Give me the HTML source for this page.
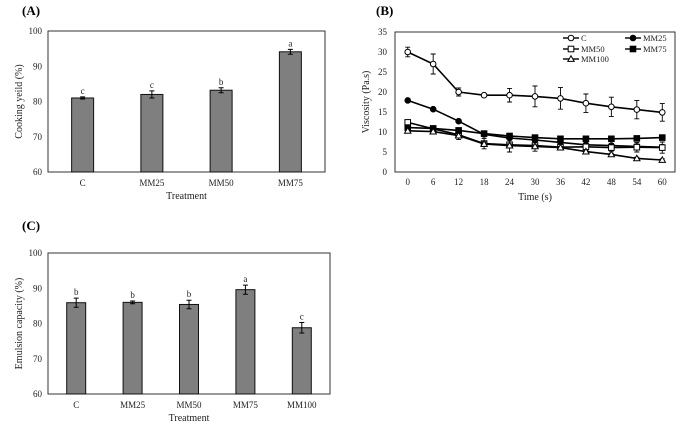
<!DOCTYPE html>
<html><head><meta charset="utf-8">
<style>
html,body{margin:0;padding:0;background:#fff;}
svg{display:block;font-family:"Liberation Serif",serif;}
</style></head>
<body>
<svg id="svg" width="689" height="433" viewBox="0 0 689 433" xmlns="http://www.w3.org/2000/svg">
<text x="22" y="15" font-size="13" font-weight="bold">(A)</text>
<text x="376" y="15" font-size="13" font-weight="bold">(B)</text>
<text x="22" y="230" font-size="13" font-weight="bold">(C)</text>
<g id="chartA"></g>
<g id="chartB"></g>
<g id="chartC"></g>
</svg>
<script>
const catsA = ["C","MM25","MM50","MM75"];
const valsA = [81.0,82.0,83.2,94.1];
const errA = [0.3,1.0,0.7,0.7];
const sigA = ["c","c","b","a"];
const ticksBar = [60,70,80,90,100];

const catsC = ["C","MM25","MM50","MM75","MM100"];
const valsC = [85.9,86.0,85.4,89.6,78.8];
const errC = [1.3,0.4,1.2,1.3,1.5];
const sigC = ["b","b","b","a","c"];

const timesB = [0,6,12,18,24,30,36,42,48,54,60];
const ticksB = [0,5,10,15,20,25,30,35];
const seriesNames = ["C","MM25","MM50","MM75","MM100"];
const valsBC = [30,27,20,19.2,19.2,18.9,18.4,17.2,16.3,15.6,14.9];
const errBC = [1.2,2.5,1,0.3,1.7,2.6,2.7,2.3,2.4,2.3,2.2];
const valsBMM25 = [17.9,15.7,12.7,9.4,8.5,8.0,7.4,6.8,6.6,6.4,6.2];
const errBMM25 = [0.3,0.3,0.3,0.5,0.5,0.5,0.4,0.5,0.5,0.6,0.6];
const valsBMM50 = [12.4,10.8,9.3,7.1,6.8,6.6,6.2,6.3,6.1,6.2,6.1];
const errBMM50 = [0.5,0.5,1.2,1.3,1.8,1.4,0.5,0.8,0.9,1.2,1.4];
const valsBMM75 = [11.1,10.9,10.4,9.6,9.0,8.6,8.3,8.3,8.3,8.4,8.6];
const errBMM75 = [0.4,0.3,0.4,0.5,0.4,0.4,0.3,0.3,0.3,0.3,0.3];
const valsBMM100 = [10.3,10.1,9.1,7.0,6.6,6.4,6.1,5.1,4.4,3.4,3.0];
const errBMM100 = [0.3,0.3,0.5,0.5,0.4,0.4,0.3,0.3,0.3,0.3,0.3];

const NS="http://www.w3.org/2000/svg";
function mk(parent,tag,attrs,text){const e=document.createElementNS(NS,tag);for(const k in attrs)e.setAttribute(k,attrs[k]);if(text!==undefined)e.textContent=text;parent.appendChild(e);return e;}

function barChart(g,cats,vals,errs,sigs,box,bw,ytitle,prefix){
  const {x0,x1,y0,y1}=box;
  const ymin=60,ymax=100;
  const ys=v=>y1-(v-ymin)/(ymax-ymin)*(y1-y0);
  const step=(x1-x0)/cats.length;
  const xs=i=>x0+step*(i+0.5);
  const frame=mk(g,"rect",{x:x0,y:y0,width:x1-x0,height:y1-y0,fill:"none",stroke:"#333","stroke-width":1});
  
  
  ticksBar.forEach(t=>{
    const tx=mk(g,"text",{x:x0-6,y:ys(t)+3,"font-size":9,"text-anchor":"end",fill:"#222"},String(t));
    
    
  });
  cats.forEach((c,i)=>{
    const cx=xs(i);
    const b=mk(g,"rect",{x:cx-bw/2,y:ys(vals[i]),width:bw,height:y1-ys(vals[i]),fill:"#7f7f7f",stroke:"#111","stroke-width":1});
    
    
    const eh=ys(vals[i]-errs[i]),el=ys(vals[i]+errs[i]);
    const eb=mk(g,"path",{d:`M${cx},${eh}V${el}M${cx-2.5},${eh}H${cx+2.5}M${cx-2.5},${el}H${cx+2.5}`,stroke:"#000","stroke-width":1,fill:"none"});
    
    
    const s=mk(g,"text",{x:cx,y:el-3,"font-size":9,"text-anchor":"middle",fill:"#222"},sigs[i]);
    
    
    const lx=mk(g,"text",{x:cx,y:y1+14,"font-size":9,"text-anchor":"middle",fill:"#222"},c);
    
    
  });
  const xt=mk(g,"text",{x:(x0+x1)/2,y:y1+27,"font-size":10,"text-anchor":"middle",fill:"#222"},"Treatment");
  
  
  const yt=mk(g,"text",{x:0,y:0,"font-size":10,"text-anchor":"middle",fill:"#222",transform:`translate(${x0-26},${(y0+y1)/2}) rotate(-90)`},ytitle);
  
  
}

barChart(document.getElementById("chartA"),catsA,valsA,errA,sigA,{x0:48,x1:325,y0:31,y1:172},22,"Cooking yeild (%)","a");
barChart(document.getElementById("chartC"),catsC,valsC,errC,sigC,{x0:48,x1:330,y0:253,y1:394},19,"Emulsion capacity (%)","c");

// Chart B
(function(){
  const g=document.getElementById("chartB");
  const x0=395,x1=675,y0=32,y1=172;
  const ys=v=>y1-v/35*(y1-y0);
  const step=(x1-x0)/timesB.length;
  const xs=i=>x0+step*(i+0.5);
  const frame=mk(g,"rect",{x:x0,y:y0,width:x1-x0,height:y1-y0,fill:"none",stroke:"#333","stroke-width":1});
  
  
  ticksB.forEach(t=>{
    const tx=mk(g,"text",{x:x0-8,y:ys(t)+3,"font-size":9,"text-anchor":"end",fill:"#222"},String(t));
    
    
  });
  timesB.forEach((t,i)=>{
    const tx=mk(g,"text",{x:xs(i),y:y1+13,"font-size":9,"text-anchor":"middle",fill:"#222"},String(t));
    
    
  });
  const xt=mk(g,"text",{x:(x0+x1)/2,y:y1+28,"font-size":10,"text-anchor":"middle",fill:"#222"},"Time (s)");
  
  
  const yt=mk(g,"text",{x:0,y:0,"font-size":10,"text-anchor":"middle",fill:"#222",transform:`translate(${x0-26},${(y0+y1)/2}) rotate(-90)`},"Viscosity (Pa.s)");
  
  
  const allVals=[valsBC,valsBMM25,valsBMM50,valsBMM75,valsBMM100];
  const allErr=[errBC,errBMM25,errBMM50,errBMM75,errBMM100];
  const markers=["circle-open","circle","square-open","square","triangle-open"];
  function marker(parent,type,x,y){
    let e;
    if(type.startsWith("circle")) e=mk(parent,"circle",{cx:x,cy:y,r:2.8,fill:type.endsWith("open")?"#fff":"#000",stroke:"#000","stroke-width":1});
    else if(type.startsWith("square")) e=mk(parent,"rect",{x:x-2.8,y:y-2.8,width:5.6,height:5.6,fill:type.endsWith("open")?"#fff":"#000",stroke:"#000","stroke-width":1});
    else e=mk(parent,"path",{d:`M${x},${y-3.2}L${x+3.2},${y+2.4}L${x-3.2},${y+2.4}Z`,fill:"#fff",stroke:"#000","stroke-width":1});
    return e;
  }
  allVals.forEach((vals,s)=>{
    const name=seriesNames[s].toLowerCase();
    const sg=mk(g,"g",{});
    
    
    vals.forEach((v,i)=>{
      const cx=xs(i),hi=ys(v+allErr[s][i]),lo=ys(v-allErr[s][i]);
      const eb=mk(sg,"path",{d:`M${cx},${lo}V${hi}M${cx-2.5},${lo}H${cx+2.5}M${cx-2.5},${hi}H${cx+2.5}`,stroke:"#000","stroke-width":0.9,fill:"none"});
      
      
    });
    const d=vals.map((v,i)=>(i?"L":"M")+xs(i)+","+ys(v)).join("");
    const ln=mk(sg,"path",{d:d,fill:"none",stroke:"#000","stroke-width":1.6});
    
    
    vals.forEach((v,i)=>{
      const m=marker(sg,markers[s],xs(i),ys(v));
      
      
    });
  });
  // legend
  const lg=mk(g,"g",{});
  
  
  const pos=[[563,38],[625,38],[563,49],[625,49],[563,59]];
  seriesNames.forEach((n,s)=>{
    const [lx,ly]=pos[s];
    const eg=mk(lg,"g",{});
    
    
    mk(eg,"line",{x1:lx,y1:ly,x2:lx+16,y2:ly,stroke:"#000","stroke-width":1.4});
    marker(eg,markers[s],lx+8,ly);
    mk(eg,"text",{x:lx+18,y:ly+3,"font-size":8.5,fill:"#222"},n);
  });
})();
</script>
</body></html>
